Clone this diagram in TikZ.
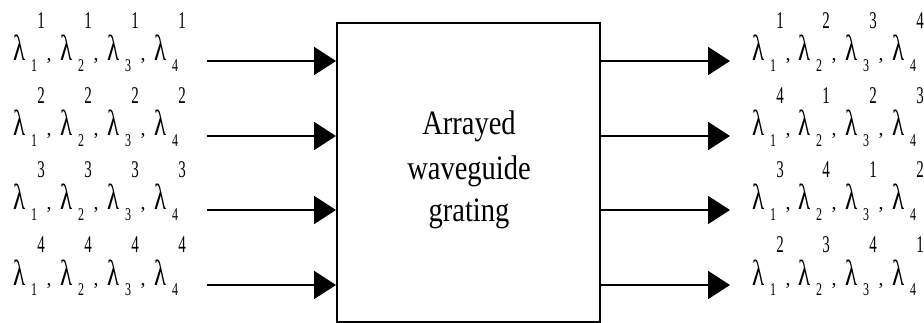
\documentclass[tikz,border=0pt]{standalone}
\usepackage{fontspec}
\setmainfont{Liberation Serif}
\usetikzlibrary{arrows.meta}

% one wavelength label: lambda with its subscript, a raised superscript and an optional comma
% #1 name, #2 x, #3 baseline y, #4 subscript, #5 superscript, #6 comma (1 = yes)
\newcommand\lamitem[6]{%
  \node[lam] (#1) at (#2,#3) {\scalebox{1}[1.45]{λ}};
  \node[lsub] (#1-sub) at ({#2+21},{#3+5}) {\scalebox{1}[1.5]{#4}};
  \node[lsup] (#1-sup) at ({#2+28},{#3-40}) {\scalebox{1}[1.6]{#5}};
  \ifnum#6=1
    \node[lcomma] (#1-comma) at ({#2+36},{#3}) {,};
  \fi
}

\begin{document}
\begin{tikzpicture}[x=1pt,y=-1pt,
  flow/.style={line width=2pt,-{Triangle[length=22pt,width=28pt]}},
  lam/.style={inner sep=0pt,anchor=base west,font=\fontsize{25}{25}\selectfont},
  lsub/.style={inner sep=0pt,font=\fontsize{12}{12}\selectfont},
  lsup/.style={inner sep=0pt,font=\fontsize{15}{15}\selectfont},
  lcomma/.style={inner sep=0pt,anchor=base,font=\fontsize{20}{20}\selectfont},
  caption/.style={inner sep=0pt,anchor=base,font=\fontsize{28.5}{28.5}\selectfont}]
\useasboundingbox (0,0) rectangle (924,323);

% the grating block
\node[draw,line width=2pt,minimum width=263pt,minimum height=299pt,inner sep=0pt]
  (awg) at (468.5,172.5) {};
\node[caption] (cap1) at (469,135) {\scalebox{1}[1.2]{Arrayed}};
\node[caption] (cap2) at (469,180) {\scalebox{1}[1.2]{waveguide}};
\node[caption] (cap3) at (469,222) {\scalebox{1}[1.2]{grating}};

% input and output ports
\foreach \r/\yy in {1/61,2/136,3/210,4/285}{
  \coordinate (in\r) at (207,\yy);
  \coordinate (out\r) at (730,\yy);
  \draw[flow] (in\r) -- (awg.west |- in\r);
  \draw[flow] (awg.east |- in\r) -- (out\r);
}

% input wavelengths: port r carries lambda_1..4 from source r
\foreach \r/\yy in {1/61,2/136,3/210,4/285}{
  \foreach \c/\xx/\cm in {1/13/1,2/60/1,3/107/1,4/154/0}{
    \lamitem{L\r\c}{\xx}{\yy}{\c}{\r}{\cm}
  }
}

% output wavelengths: cyclic routing of the sources
\foreach \r/\yy/\sa/\sb/\sc/\sd in {1/61/1/2/3/4,2/136/4/1/2/3,3/210/3/4/1/2,4/285/2/3/4/1}{
  \lamitem{R\r1}{752}{\yy}{1}{\sa}{1}
  \lamitem{R\r2}{798}{\yy}{2}{\sb}{1}
  \lamitem{R\r3}{845}{\yy}{3}{\sc}{1}
  \lamitem{R\r4}{892}{\yy}{4}{\sd}{0}
}
\end{tikzpicture}
\end{document}
